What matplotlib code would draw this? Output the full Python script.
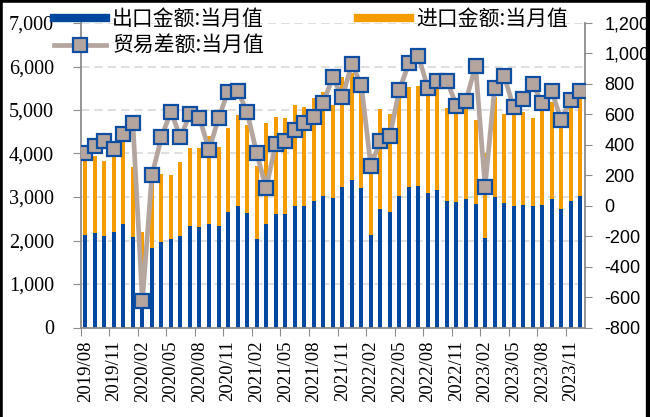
import numpy as np
import pandas as pd
import matplotlib
matplotlib.use('Agg')
import matplotlib.pyplot as plt
from matplotlib.lines import Line2D

plt.rcParams['font.family'] = ['Noto Sans CJK SC', 'DejaVu Sans']

# 2019/08 - 2023/12, monthly
months = list(pd.date_range('2019-08-01', periods=53, freq='MS').strftime('%Y/%m'))

exports = [2126, 2165, 2103, 2203, 2372, 2088, 790, 1828, 1973, 2042,
           2103, 2341, 2318, 2372, 2341, 2648, 2801, 2625, 2027, 2379,
           2609, 2609, 2793, 2793, 2908, 3023, 2969, 3238, 3391, 3215,
           2126, 2716, 2663, 3023, 3222, 3261, 3100, 3161, 2916, 2893,
           2954, 2831, 2065, 3008, 2870, 2801, 2816, 2793, 2816, 2954,
           2724, 2908, 3023]
imports = [1790, 1780, 1730, 1830, 1900, 1595, 1412, 1629, 1548, 1464,
           1702, 1785, 1801, 2020, 1801, 1931, 2084, 2030, 1693, 2315,
           2238, 2215, 2314, 2268, 2360, 2398, 2150, 2513, 2460, 2420,
           1865, 2300, 2245, 2260, 2314, 2298, 2330, 2340, 2138, 2236,
           2264, 1939, 1944, 2298, 2038, 2155, 2146, 2015, 2184, 2238,
           2170, 2169, 2230]
balance = [348, 392, 425, 370, 471, 545, -626, 199, 449, 618,
           449, 602, 578, 366, 574, 749, 755, 618, 348, 114,
           405, 427, 497, 545, 585, 677, 843, 712, 931, 793,
           261, 427, 460, 762, 935, 983, 771, 820, 820, 657,
           690, 920, 125, 771, 853, 646, 699, 797, 677, 753,
           563, 694, 753]

blue = '#0047a0'
orange = '#f59c00'
taupe = '#b5a59f'
axis_gray = '#8c8c8c'

fig = plt.figure(figsize=(6.5, 4.17), dpi=100)
ax = fig.add_axes([80.5 / 650, 89.5 / 417, 504.5 / 650, 304.5 / 417])
x = np.arange(len(months))

ax.bar(x, exports, width=0.42, color=blue, zorder=2)
ax.bar(x, imports, width=0.42, bottom=exports, color=orange, zorder=2)

ax.set_xlim(-0.5, len(months) - 0.5)
ax.set_ylim(0, 7000)
ax.set_yticks(range(0, 7001, 1000))
ax.set_yticklabels([f'{v:,}' for v in range(0, 7001, 1000)],
                   family='Liberation Serif', fontsize=14.5)
ax.yaxis.grid(True, color='#d9d9d9', linestyle=(0, (5, 3)), linewidth=1.2)
ax.set_axisbelow(True)

# ticks between categories, labels on categories
ax.set_xticks(np.arange(-0.5, len(months) - 1, 3))
ax.set_xticklabels([])
ax.set_xticks(x[::3], minor=True)
ax.set_xticklabels(months[::3], minor=True, rotation=90,
                   family='Liberation Serif', fontsize=13.5)
ax.tick_params(axis='x', which='major', length=6, color=axis_gray)
ax.tick_params(axis='x', which='minor', length=0, pad=9)
ax.tick_params(axis='y', length=6, color=axis_gray, pad=13)

for s in ['top', 'right']:
    ax.spines[s].set_visible(False)
for s in ['left', 'bottom']:
    ax.spines[s].set_color(axis_gray)
    ax.spines[s].set_linewidth(1.3)

ax2 = ax.twinx()
ax2.plot(x, balance, color=taupe, linewidth=3.4, marker='s', markersize=9.5,
         markerfacecolor=taupe, markeredgecolor='#0b4ea2', markeredgewidth=1.6,
         zorder=3)
ax2.set_ylim(-800, 1200)
ax2.set_yticks(range(-800, 1201, 200))
ax2.set_yticklabels([f'{v:,}' for v in range(-800, 1201, 200)],
                    family='Liberation Sans', fontsize=13)
ax2.tick_params(axis='y', length=5, color=axis_gray, pad=9)
for s in ['top', 'left', 'bottom']:
    ax2.spines[s].set_visible(False)
ax2.spines['right'].set_color(axis_gray)
ax2.spines['right'].set_linewidth(1.3)

handles = [Line2D([], [], color=blue, linewidth=6),
           Line2D([], [], color=taupe, linewidth=3.4, marker='s', markersize=9.5,
                  markerfacecolor=taupe, markeredgecolor='#0b4ea2',
                  markeredgewidth=1.6),
           Line2D([], [], color=orange, linewidth=6)]
labels = ['出口金额:当月值', '贸易差额:当月值', '进口金额:当月值']
fig.legend(handles, labels, ncol=2, loc='upper left',
           bbox_to_anchor=(54 / 650, 1 - 8 / 417), frameon=False,
           fontsize=15, handlelength=2.5, handletextpad=0.3,
           columnspacing=4.5, labelspacing=0.25, borderpad=0,
           borderaxespad=0, numpoints=1)

# outer frame
for xs, ys, lw in [([0, 0], [0, 1], 4), ([0, 1], [1, 1], 4), ([1, 1], [0, 1], 6)]:
    fig.add_artist(Line2D(xs, ys, transform=fig.transFigure, color='black',
                          linewidth=lw, zorder=10))

fig.savefig('out.png', dpi=100)
